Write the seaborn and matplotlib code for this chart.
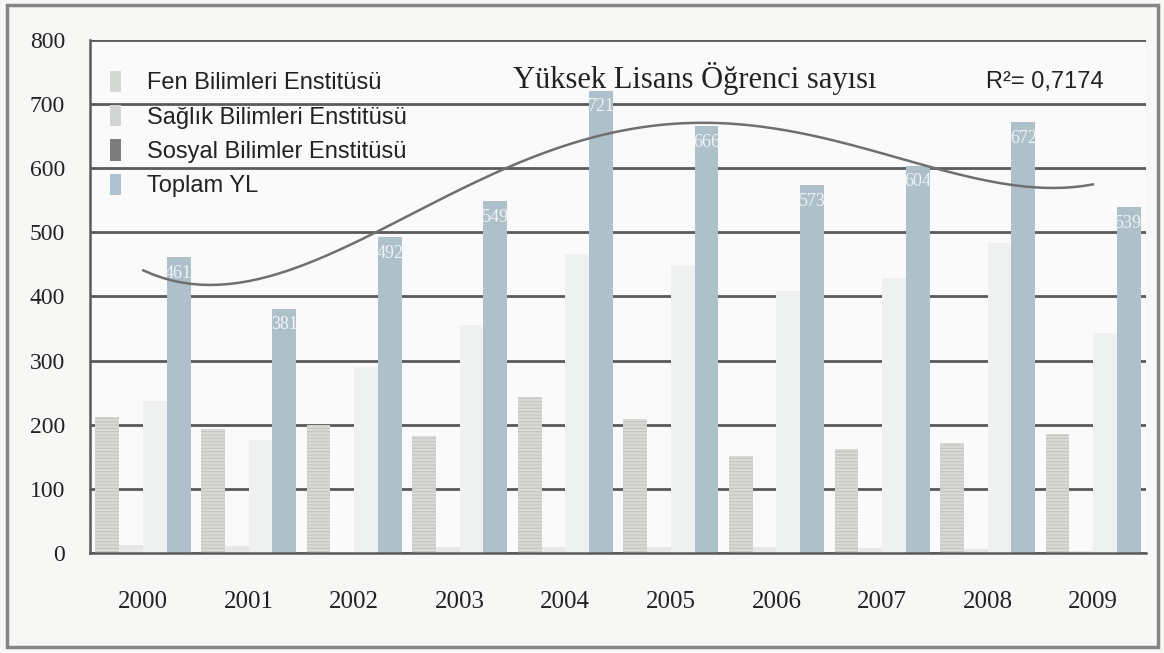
import numpy as np
import pandas as pd
import matplotlib.pyplot as plt
import seaborn as sns
from matplotlib.patches import Patch, Rectangle

years = ["2000", "2001", "2002", "2003", "2004", "2005", "2006", "2007", "2008", "2009"]
fen = [212, 193, 200, 183, 243, 209, 152, 162, 171, 185]
saglik = [12, 11, 2, 10, 10, 10, 10, 8, 7, 3]
sosyal = [237, 176, 290, 356, 466, 447, 408, 428, 484, 343]
toplam = [461, 381, 492, 549, 721, 666, 573, 604, 672, 539]
series = ["Fen Bilimleri Enstitüsü", "Sağlık Bilimleri Enstitüsü",
          "Sosyal Bilimler Enstitüsü", "Toplam YL"]

df = pd.DataFrame({"Yıl": years * 4,
                   "Seri": np.repeat(series, len(years)),
                   "Sayı": fen + saglik + sosyal + toplam})

bar_colors = ["#d9dbd6", "#e6e8e8", "#eff0f0", "#a9c1cf"]
legend_colors = ["#d6d8d6", "#d3d5d5", "#7c7c7c", "#adc3cf"]
grid_c = "#5a5a5a"

sns.set_theme(style="white")
plt.rcParams["font.family"] = ["Liberation Serif", "DejaVu Serif"]
plt.rcParams["hatch.linewidth"] = 0.8

fig = plt.figure(figsize=(11.64, 6.53), dpi=100, facecolor="#f7f8f6")
fig.patches.append(Rectangle((0.006, 0.009), 0.989, 0.983, transform=fig.transFigure,
                             fill=False, edgecolor="#858585", linewidth=2.5))
ax = fig.add_axes([0.0775, 0.153, 0.907, 0.786])
ax.set_facecolor("#f9faf9")

sns.barplot(data=df, x="Yıl", y="Sayı", hue="Seri", hue_order=series,
            palette=bar_colors, width=0.9, gap=0, legend=False, ax=ax, zorder=2)

n = len(years)
for i, p in enumerate(ax.patches):
    p.set_linewidth(0)
    if i < n:
        p.set_hatch("-----")
        p.set_edgecolor("#c3c5bf")

# value labels inside the Toplam bars
for p, v in zip(ax.patches[3 * n:4 * n], toplam):
    ax.text(p.get_x() + p.get_width() / 2, v - 12, str(v), ha="center", va="top",
            color="#eef3f6", fontsize=13, zorder=4)

# polynomial trendline of the total
sns.regplot(x=np.arange(n), y=toplam, order=4, ci=None, scatter=False, truncate=True,
            line_kws={"color": "#6f6f6f", "linewidth": 1.8, "zorder": 5}, ax=ax)

ax.set_ylim(0, 800)
ax.set_xlim(-0.5, n - 0.5)
ax.set_yticks(range(0, 801, 100))
ax.yaxis.grid(True, color=grid_c, linewidth=2)
ax.set_axisbelow(True)
ax.set_xticks(range(n))
ax.set_xticklabels(years)
ax.set_xticks(np.arange(-0.5, n, 1), minor=True)
ax.tick_params(axis="x", which="major", length=0, pad=27, labelsize=18, colors="#222222")
ax.tick_params(axis="x", which="minor", length=8, width=1.5, color=grid_c, direction="out")
ax.tick_params(axis="y", length=11, width=2, color=grid_c, direction="out",
               labelsize=17, pad=7, labelcolor="#222222")
ax.set_xlabel("")
ax.set_ylabel("")
for s in ["top", "right"]:
    ax.spines[s].set_visible(False)
for s in ["left", "bottom"]:
    ax.spines[s].set_color(grid_c)
    ax.spines[s].set_linewidth(1.8)

handles = [Patch(facecolor=c, edgecolor="none") for c in legend_colors]
ax.legend(handles, series, loc="upper left", bbox_to_anchor=(-0.001, 0.981), frameon=False,
          prop={"family": "Liberation Sans", "size": 17}, handlelength=0.45, handleheight=1.0,
          handletextpad=1.1, labelspacing=0.45, labelcolor="#222222")

ax.text(0.573, 0.925, "Yüksek Lisans Öğrenci sayısı", transform=ax.transAxes, ha="center",
        va="center", fontsize=22, color="#222222")
ax.text(0.96, 0.917, "R²= 0,7174", transform=ax.transAxes, ha="right", va="center",
        fontsize=17, family="Liberation Sans", color="#222222")

fig.savefig("out.png", dpi=100, facecolor=fig.get_facecolor())
